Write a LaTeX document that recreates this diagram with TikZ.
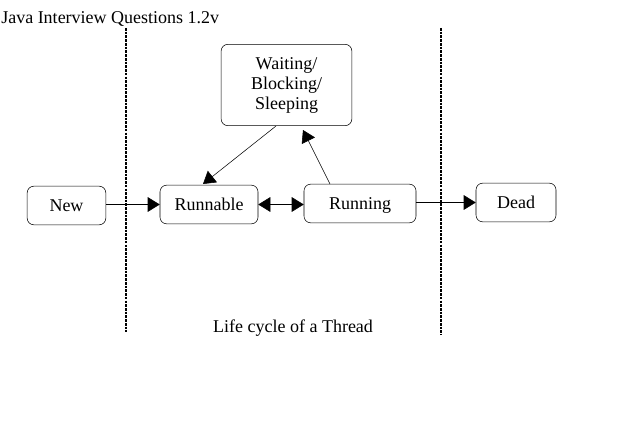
\documentclass[tikz,border=0pt]{standalone}
\usepackage{fontspec}
\setmainfont{Liberation Serif}
\usetikzlibrary{arrows.meta}
\tikzset{
  state/.style={draw, rounded corners=5pt, align=center, inner sep=0pt},
  single/.style={state, minimum height=29pt, text height=2.1ex, text depth=0.2ex},
  border/.style={line width=1.2pt, dash pattern=on 2pt off 0.8pt},
}
\begin{document}
\begin{tikzpicture}[x=0.75pt, y=-0.75pt, font=\fontsize{13.5}{15}\selectfont,
    >={Triangle[length=9pt, width=11pt]}]
      \useasboundingbox (0,0) rectangle (634,424);
      \node[anchor=west, inner sep=0pt] (title) at (1,19) {Java Interview Questions 1.2v};
      \draw
        (286.5,85) node[state, minimum width=98pt, minimum height=61pt] (wait){Waiting/\\Blocking/\\Sleeping}
        (66.5,205.5) node[single, minimum width=59pt] (new){New}
        (209,204.5) node[single, minimum width=73.5pt] (runnable){Runnable}
        (360,203.5) node[single, minimum width=84pt] (running){Running}
        (516,202.5) node[single, minimum width=60pt] (dead){Dead};
      \node (caption) at (293,328) {Life cycle of a Thread};
      \coordinate (b1top) at (126,28);
      \coordinate (b1bot) at (126,332);
      \coordinate (b2top) at (441,28);
      \coordinate (b2bot) at (441,335);
      \begin{scope}[border]
        \draw (b1top) to (b1bot);
        \draw (b2top) to (b2bot);
      \end{scope}
      \begin{scope}[->]
        \draw (new.east |- runnable) to (runnable);
        \draw[<->] (runnable) to (running.west |- runnable);
        \draw (running.east |- dead) to (dead);
        \draw (276,126) to (203,184);
        \draw (330,184) to (303,130);
      \end{scope}
    \end{tikzpicture}
\end{document}
